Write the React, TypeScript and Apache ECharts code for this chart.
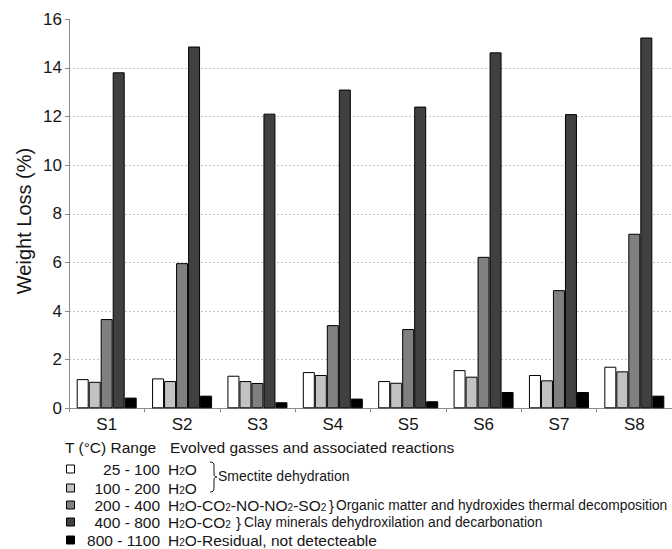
import React, { useEffect, useRef } from "react";
import * as echarts from "echarts";

const categories = ["S1", "S2", "S3", "S4", "S5", "S6", "S7", "S8"];
const t25_100 = [1.2, 1.23, 1.34, 1.49, 1.12, 1.57, 1.37, 1.71];
const t100_200 = [1.09, 1.12, 1.12, 1.37, 1.05, 1.3, 1.15, 1.52];
const t200_400 = [3.67, 5.97, 1.04, 3.42, 3.26, 6.23, 4.86, 7.18];
const t400_800 = [13.82, 14.88, 12.12, 13.11, 12.41, 14.64, 12.1, 15.25];
const t800_1100 = [0.44, 0.52, 0.25, 0.4, 0.29, 0.67, 0.67, 0.52];

const seriesNames = ["25 - 100", "100 - 200", "200 - 400", "400 - 800", "800 - 1100"];
const seriesColors = ["#ffffff", "#c2c2c2", "#808080", "#404040", "#000000"];
const gasLabels = [
  "H{s|2}O",
  "H{s|2}O",
  "H{s|2}O-CO{s|2}-NO-NO{s|2}-SO{s|2}",
  "H{s|2}O-CO{s|2}",
  "H{s|2}O-Residual, not detecteable",
];
const reactionLabels = [
  "Smectite dehydration",
  "Organic matter and hydroxides thermal decomposition",
  "Clay minerals dehydroxilation and decarbonation",
];

const FONT = "'Liberation Sans', Arial, sans-serif";
const TXT = "#161616";

echarts.graphic.registerShape(
  "brace",
  echarts.graphic.extendPath(
    "M0,0 C3,0 4,1 4,4 L4,12 C4,14 5,15 7,15 C5,15 4,16 4,18 L4,26 C4,29 3,30 0,30",
    {}
  )
);

export default function App() {
  const ref = useRef<HTMLDivElement>(null);
  useEffect(() => {
    if (!ref.current) return;
    const chart = echarts.init(ref.current, null, { renderer: "svg" });
    const data = [t25_100, t100_200, t200_400, t400_800, t800_1100];
    const rowY = [469, 488, 505, 522, 540];
    const graphics: any[] = [
      {
        type: "text",
        x: 24,
        y: 221,
        rotation: Math.PI / 2,
        style: {
          text: "Weight Loss (%)",
          font: `20px ${FONT}`,
          fill: TXT,
          align: "center",
          verticalAlign: "middle",
        },
      },
      {
        type: "text",
        x: 65,
        y: 447,
        style: { text: "T (°C) Range", font: `15.5px ${FONT}`, fill: TXT, verticalAlign: "middle" },
      },
      {
        type: "text",
        x: 170,
        y: 447,
        style: {
          text: "Evolved gasses and associated reactions",
          font: `15.5px ${FONT}`,
          fill: TXT,
          verticalAlign: "middle",
        },
      },
    ];
    seriesNames.forEach((n, i) => {
      graphics.push({
        type: "rect",
        shape: { x: 66.5, y: rowY[i] - 4, width: 8, height: 8 },
        style: { fill: seriesColors[i], stroke: "#000", lineWidth: 1 },
      });
      graphics.push({
        type: "text",
        x: 160,
        y: rowY[i],
        style: { text: n, font: `15.5px ${FONT}`, fill: TXT, align: "right", verticalAlign: "middle" },
      });
      graphics.push({
        type: "text",
        x: 168,
        y: rowY[i],
        style: {
          text: gasLabels[i],
          font: `15.5px ${FONT}`,
          fill: TXT,
          verticalAlign: "middle",
          rich: { s: { fontSize: 10, fontFamily: FONT, fill: TXT, padding: [5, 0, 0, 0] } },
        },
      });
    });
    graphics.push({
      type: "brace",
      x: 210,
      y: 462,
      style: { stroke: TXT, fill: "none", lineWidth: 1 },
    });
    graphics.push({
      type: "text",
      x: 218,
      y: 476,
      style: { text: reactionLabels[0], font: `14px ${FONT}`, fill: TXT, verticalAlign: "middle" },
    });
    graphics.push({
      type: "text",
      x: 329,
      y: 505,
      style: { text: "}", font: `15px ${FONT}`, fill: TXT, verticalAlign: "middle" },
    });
    graphics.push({
      type: "text",
      x: 336,
      y: 505,
      style: { text: reactionLabels[1], font: `13.8px ${FONT}`, fill: TXT, verticalAlign: "middle" },
    });
    graphics.push({
      type: "text",
      x: 236,
      y: 522,
      style: { text: "}", font: `15px ${FONT}`, fill: TXT, verticalAlign: "middle" },
    });
    graphics.push({
      type: "text",
      x: 244,
      y: 522,
      style: { text: reactionLabels[2], font: `13.8px ${FONT}`, fill: TXT, verticalAlign: "middle" },
    });

    chart.setOption({
      animation: false,
      backgroundColor: "#ffffff",
      textStyle: { fontFamily: FONT },
      grid: { left: 69, right: -5, top: 19.3, bottom: 140.7, containLabel: false },
      xAxis: {
        type: "category",
        data: categories,
        axisLine: { lineStyle: { color: "#8c8c8c", width: 1 } },
        axisTick: { show: true, length: 4, lineStyle: { color: "#8c8c8c" } },
        axisLabel: { fontSize: 17, color: TXT, margin: 8, fontFamily: FONT },
        splitLine: { show: false },
      },
      yAxis: {
        type: "value",
        min: 0,
        max: 16,
        interval: 2,
        axisLine: { show: true, lineStyle: { color: "#8c8c8c", width: 1 } },
        axisTick: { show: true, length: 4, lineStyle: { color: "#8c8c8c" } },
        axisLabel: { fontSize: 17, color: TXT, margin: 7, fontFamily: FONT },
        splitLine: {
          show: true,
          showMaxLine: false,
          lineStyle: { color: "#c4c4c4", type: [2, 2], width: 1 },
        },
      },
      series: data.map((d, i) => ({
        name: seriesNames[i],
        type: "bar",
        data: d,
        barWidth: 12,
        barGap: "0%",
        itemStyle: { color: seriesColors[i], borderColor: "#000", borderWidth: 1 },
      })),
      graphic: graphics,
    });
    return () => chart.dispose();
  }, []);
  return (
    <div
      ref={ref}
      style={{ position: "absolute", left: 0, top: 0, width: 672, height: 549 }}
    />
  );
}
